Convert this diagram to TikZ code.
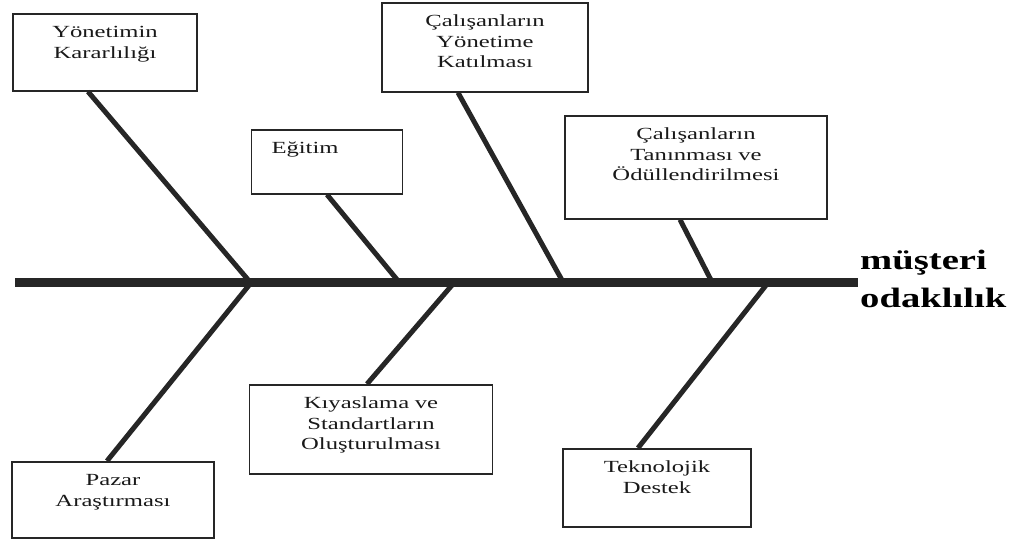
\documentclass[tikz,border=0pt]{standalone}
\usepackage{fontspec}
\setmainfont{Liberation Serif}[FakeStretch=1.45]
\newfontfamily\headfont{Liberation Serif}[FakeStretch=1.38]
\usepackage{tikz}
\usetikzlibrary{positioning, calc}

\begin{document}
\begin{tikzpicture}[
      x=1pt, y=-1pt,
      causebox/.style={draw=black!85, line width=1.6pt, align=center, anchor=north, text=black!90,
        font=\fontsize{17}{20.5}\selectfont, inner xsep=6pt, inner ysep=12pt, text height=12pt},
      bone/.style={draw=black!85, line width=5pt},
      spine/.style={draw=black!85, line width=9pt}
    ]
      \useasboundingbox (0,0) rectangle (1023,543);

      % Spine and head
      \coordinate (tail) at (15,282);
      \coordinate (head) at (858,282);
      \draw[spine] (tail) -- (head);
      \node[anchor=west, align=left, font=\headfont\bfseries\fontsize{28}{38}\selectfont, inner sep=0pt] (effect) at ([xshift=2pt, yshift=3pt]head) {müşteri\\ odaklılık};

      % Points where the bones meet the spine
      \coordinate (up1) at (250,282);
      \coordinate (up2) at (399,282);
      \coordinate (up3) at (563,282);
      \coordinate (up4) at (712,282);
      \coordinate (low1) at (250,284);
      \coordinate (low2) at (453,284);
      \coordinate (low3) at (767,284);

      % Upper causes
      \node[causebox, text width=172pt, text depth=41pt] (karar) at (105,13) {Yönetimin\\ Kararlılığı};
      \node[causebox, text width=111pt, inner xsep=20pt, align=left, text depth=28pt] (egitim) at (327,129) {Eğitim};
      \node[causebox, text width=194pt, text depth=53pt] (katilim) at (485,2) {Çalışanların\\ Yönetime\\ Katılması};
      \node[causebox, text width=250pt, text depth=67pt] (odul) at (696,115) {Çalışanların\\ Tanınması ve\\ Ödüllendirilmesi};

      % Lower causes
      \node[causebox, text width=190pt, text depth=40pt] (pazar) at (113,461) {Pazar\\ Araştırması};
      \node[causebox, text width=231pt, text depth=53pt] (kiyas) at (371,384) {Kıyaslama ve\\ Standartların\\ Oluşturulması};
      \node[causebox, text width=176pt, text depth=42pt] (tekno) at (657,448) {Teknolojik\\ Destek};

      % Bones
      \draw[bone] ([xshift=-17pt]karar.south) -- (up1);
      \draw[bone] (egitim.south) -- (up2);
      \draw[bone] ([xshift=-27pt]katilim.south) -- (up3);
      \draw[bone] ([xshift=-16pt]odul.south) -- (up4);
      \draw[bone] (low1) -- ([xshift=-6pt]pazar.north);
      \draw[bone] (low2) -- ([xshift=-4pt]kiyas.north);
      \draw[bone] (low3) -- ([xshift=-19pt]tekno.north);

    \end{tikzpicture}
\end{document}
